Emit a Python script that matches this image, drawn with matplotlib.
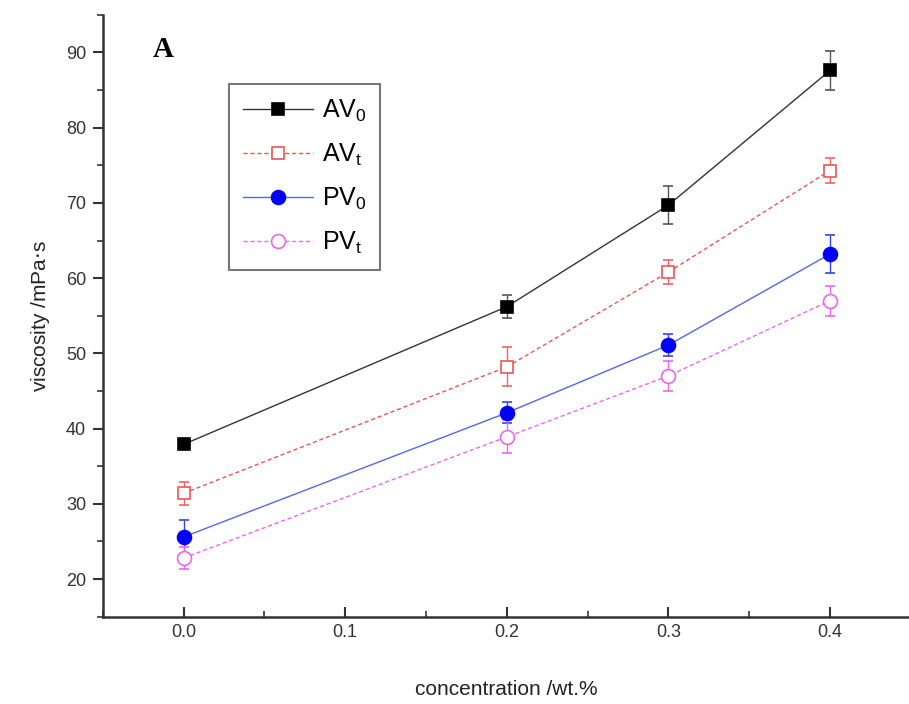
import numpy as np
import matplotlib
matplotlib.use('Agg')
import matplotlib.pyplot as plt
from matplotlib.ticker import MultipleLocator
from matplotlib.lines import Line2D

# concentration (wt.%) and viscosities (mPa.s)
conc = [0.0, 0.2, 0.3, 0.4]
av0 = [37.9, 56.2, 69.7, 87.6]
av0_err = [0.5, 1.5, 2.5, 2.6]
avt = [31.4, 48.2, 60.8, 74.3]
avt_err = [1.5, 2.6, 1.6, 1.7]
pv0 = [25.6, 42.1, 51.1, 63.2]
pv0_err = [2.2, 1.4, 1.5, 2.5]
pvt = [22.8, 38.9, 47.0, 57.0]
pvt_err = [1.5, 2.2, 2.0, 2.0]

plt.rcParams['font.family'] = 'Liberation Sans'

fig = plt.figure(figsize=(9.09, 7.04), dpi=100)
ax = fig.add_axes([0.113, 0.124, 0.889, 0.855])

styles = [
    dict(color='#333333', ecolor='#555555', ls='-', marker='s', ms=9,
         mfc='k', mec='k', label=r'AV$_\mathregular{0}$'),
    dict(color='#ee5555', ecolor='#ee6666', ls=(0, (3, 2)), marker='s', ms=9,
         mfc='white', mec='#ee5555', label=r'AV$_\mathregular{t}$'),
    dict(color='#5566ee', ecolor='#3344ee', ls='-', marker='o', ms=10,
         mfc='#0000ff', mec='#0000ff', label=r'PV$_\mathregular{0}$'),
    dict(color='#ee66ee', ecolor='#ee66ee', ls=(0, (3, 2)), marker='o', ms=10,
         mfc='white', mec='#ee66ee', label=r'PV$_\mathregular{t}$'),
]
series = [(av0, av0_err), (avt, avt_err), (pv0, pv0_err), (pvt, pvt_err)]

handles = []
for (y, e), st in zip(series, styles):
    ax.errorbar(conc, y, yerr=e, color=st['color'], ecolor=st['ecolor'],
                lw=1.0, ls=st['ls'], marker=st['marker'], ms=st['ms'],
                mfc=st['mfc'], mec=st['mec'], mew=1.2, capsize=3.5,
                elinewidth=1.0)
    handles.append(Line2D([], [], color=st['color'], lw=1.0, ls=st['ls'],
                          marker=st['marker'], ms=st['ms'], mfc=st['mfc'],
                          mec=st['mec'], mew=1.2, label=st['label']))

ax.set_xlim(-0.05, 0.45)
ax.set_ylim(15, 95)
ax.xaxis.set_minor_locator(MultipleLocator(0.05))
ax.yaxis.set_minor_locator(MultipleLocator(5))
ax.set_xticks([0.0, 0.1, 0.2, 0.3, 0.4])
ax.set_yticks([20, 30, 40, 50, 60, 70, 80, 90])
ax.set_xticklabels(['0.0', '0.1', '0.2', '0.3', '0.4'])

for s in ['top', 'right']:
    ax.spines[s].set_visible(False)
for s in ['left', 'bottom']:
    ax.spines[s].set_linewidth(1.8)
    ax.spines[s].set_color('#333333')

ax.tick_params(axis='x', which='major', direction='in', length=7, width=1.5,
               labelsize=13, colors='#333333', pad=5)
ax.tick_params(axis='x', which='minor', direction='in', length=4, width=1.2,
               colors='#333333')
ax.tick_params(axis='y', which='major', direction='out', length=7, width=1.5,
               labelsize=13, colors='#333333', pad=5)
ax.tick_params(axis='y', which='minor', direction='out', length=4, width=1.2,
               colors='#333333')

ax.set_xlabel('concentration /wt.%', fontsize=15, color='#222222', labelpad=28)
ax.set_ylabel('viscosity /mPa$\\cdot$s', fontsize=15, color='#222222',
              labelpad=10)

fig.text(0.18, 0.93, 'A', fontsize=21, fontweight='bold',
         family='Liberation Serif', ha='center', va='center')

leg = ax.legend(handles=handles, loc='upper left',
                bbox_to_anchor=(0.252, 0.881), bbox_transform=fig.transFigure,
                fontsize=18, frameon=True, fancybox=False,
                edgecolor='#555555', handlelength=2.8, handletextpad=0.35,
                labelspacing=0.72, borderpad=0.55, borderaxespad=0)
leg.get_frame().set_linewidth(1.5)

fig.savefig('out.png', dpi=100)
